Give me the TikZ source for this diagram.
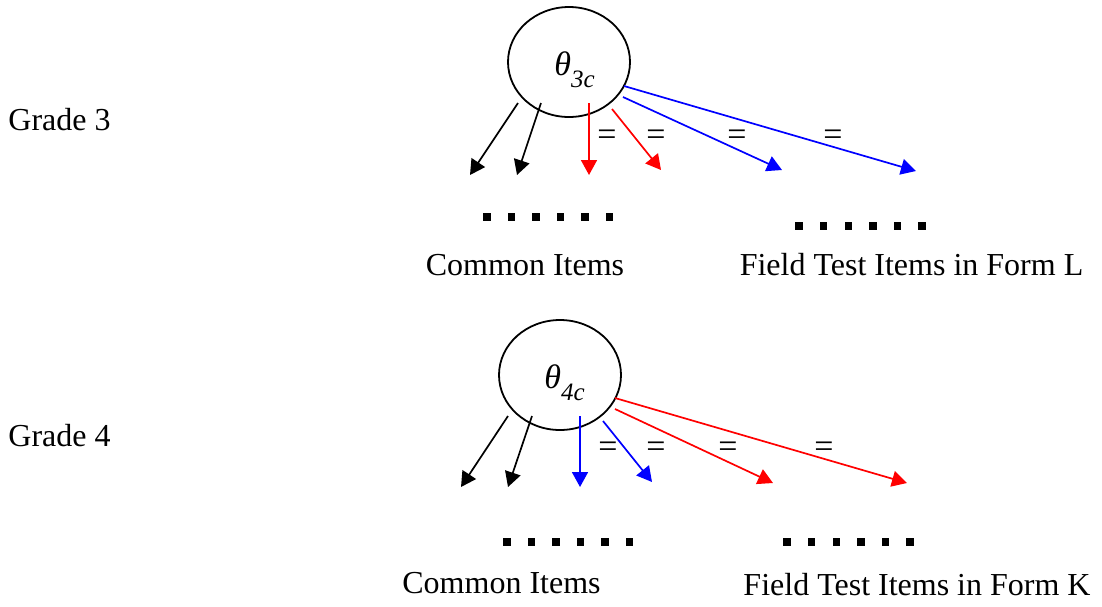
\documentclass[tikz,border=0pt]{standalone}
\usepackage{fontspec}
\setmainfont{Liberation Serif}
\usetikzlibrary{shapes.geometric,arrows.meta}
\tikzset{
  latent/.style={shape=ellipse,draw=black,line width=0.9pt,minimum width=61pt,minimum height=55pt,inner sep=0pt},
  load/.style={line width=0.85pt,-{Triangle[length=7.5pt,width=8pt]}},
  itemdot/.style={shape=rectangle,fill=black,minimum size=3.7pt,inner sep=0pt},
  lab/.style={font=\fontsize{16}{19}\selectfont,inner sep=0pt},
  eqsign/.style={font=\fontsize{17}{20}\selectfont,inner sep=0pt,text=black}
}
\newcommand{\thetalab}[1]{\fontsize{17}{20}\selectfont\textit{θ}\raisebox{-6pt}{\fontsize{12.5}{14}\selectfont\textit{#1}}}
\begin{document}
\begin{tikzpicture}[x=0.5pt,y=-0.5pt]
        \useasboundingbox (0,0) rectangle (1102,606);
        \node[lab,anchor=base west] (G3) at (8,130) {Grade 3};
        \node[lab,anchor=base west] (G4) at (8,446) {Grade 4};
        \node[latent] (T3) at (569,62) {};
        \node[latent] (T4) at (560,375) {};
        \node[inner sep=0pt,anchor=base west] (T3lab) at (554,75) {\thetalab{3c}};
        \node[inner sep=0pt,anchor=base west] (T4lab) at (544,388) {\thetalab{4c}};
        \coordinate (s31) at (518,103);
        \coordinate (s32) at (541,103);
        \coordinate (s33) at (589,103);
        \coordinate (s34) at (612,109);
        \coordinate (s35) at (623,97);
        \coordinate (s36) at (624,86);
        \coordinate (e31) at (470,175);
        \coordinate (e32) at (517,175);
        \coordinate (e33) at (589,175);
        \coordinate (e34) at (661,170);
        \coordinate (e35) at (782,170);
        \coordinate (e36) at (916,171);
        \coordinate (s41) at (508,416);
        \coordinate (s42) at (532,416);
        \coordinate (s43) at (580,416);
        \coordinate (s44) at (603,421);
        \coordinate (s45) at (615,409);
        \coordinate (s46) at (615,398);
        \coordinate (e41) at (461,487);
        \coordinate (e42) at (508,487);
        \coordinate (e43) at (580,487);
        \coordinate (e44) at (652,482);
        \coordinate (e45) at (773,483);
        \coordinate (e46) at (907,483);
        \draw[load] (s31) -- (e31);
        \draw[load] (s32) -- (e32);
        \draw[load,red] (s33) -- (e33);
        \draw[load,red] (s34) -- (e34);
        \draw[load,blue] (s35) -- (e35);
        \draw[load,blue] (s36) -- (e36);
        \draw[load] (s41) -- (e41);
        \draw[load] (s42) -- (e42);
        \draw[load,blue] (s43) -- (e43);
        \draw[load,blue] (s44) -- (e44);
        \draw[load,red] (s45) -- (e45);
        \draw[load,red] (s46) -- (e46);
        \node[eqsign] (q31) at (607,138) {=};
        \node[eqsign] (q32) at (656,138) {=};
        \node[eqsign] (q33) at (737,138) {=};
        \node[eqsign] (q34) at (833,138) {=};
        \node[eqsign] (q41) at (608,450) {=};
        \node[eqsign] (q42) at (656,450) {=};
        \node[eqsign] (q43) at (728,450) {=};
        \node[eqsign] (q44) at (824,450) {=};
        \foreach \i in {0,...,5} {
          \node[itemdot] (c3\i) at ({487+24.5*\i},217) {};
          \node[itemdot] (f3\i) at ({799+24.6*\i},226) {};
          \node[itemdot] (c4\i) at ({507+24.5*\i},542) {};
          \node[itemdot] (f4\i) at ({787+24.6*\i},542) {};
        }
        \node[lab,anchor=base] (C3) at (525,275) {Common Items};
        \node[lab,anchor=base] (F3) at (911.5,275) {Field Test Items in Form L};
        \node[lab,anchor=base] (C4) at (501.5,593) {Common Items};
        \node[lab,anchor=base] (F4) at (917,595) {Field Test Items in Form K};
    \end{tikzpicture}
\end{document}
